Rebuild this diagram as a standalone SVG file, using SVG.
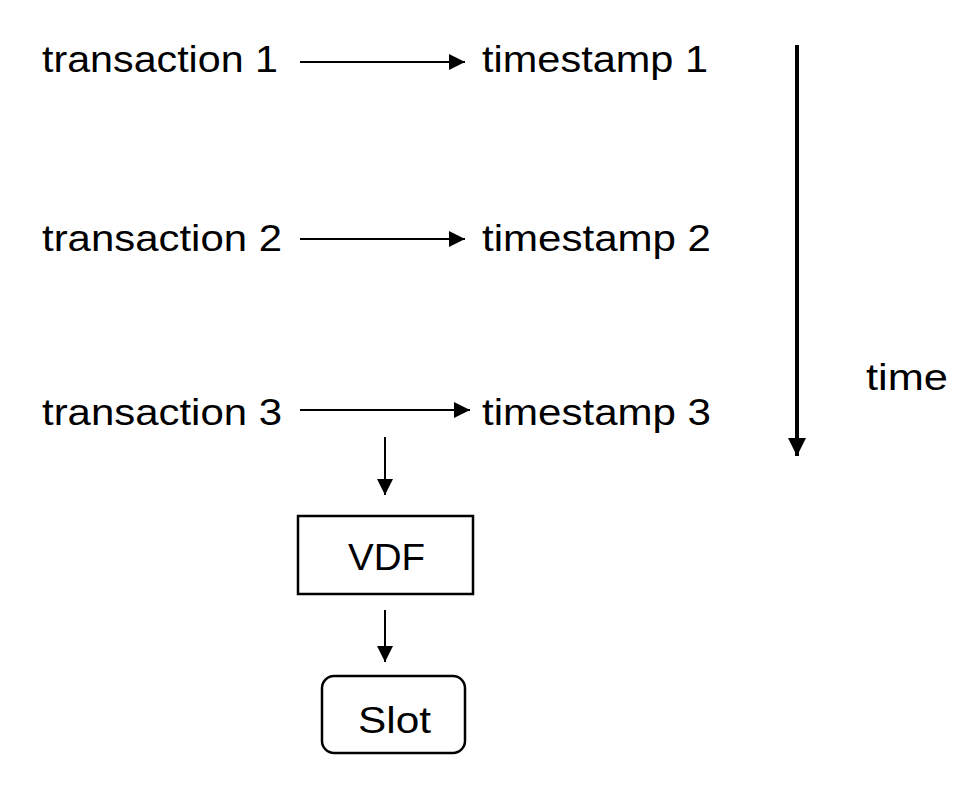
<svg xmlns="http://www.w3.org/2000/svg" width="974" height="806" viewBox="0 0 974 806">
<style>
text{font-family:"Liberation Sans",Arial,sans-serif;font-size:37px;fill:#000}
.c{stroke:#000;stroke-width:2;fill:none}
.b{stroke:#000;stroke-width:2.5;fill:#fff}
</style>
<defs>
<marker id="m" viewBox="0 0 10 10" refX="10" refY="5" markerWidth="16" markerHeight="16" markerUnits="userSpaceOnUse" orient="auto"><path d="M0,0L10,5L0,10z"/></marker>
<marker id="s" viewBox="0 0 10 10" refX="10" refY="5" markerWidth="18" markerHeight="18" markerUnits="userSpaceOnUse" orient="auto"><path d="M0,0L10,5L0,10z"/></marker>
</defs>
<rect width="974" height="806" fill="#fff"/>
<g id="tx1"><text x="42" y="72" textLength="236" lengthAdjust="spacingAndGlyphs">transaction 1</text></g>
<g id="ts1"><text x="482" y="72" textLength="226" lengthAdjust="spacingAndGlyphs">timestamp 1</text></g>
<g id="tx2"><text x="42" y="251" textLength="240" lengthAdjust="spacingAndGlyphs">transaction 2</text></g>
<g id="ts2"><text x="482" y="251" textLength="229" lengthAdjust="spacingAndGlyphs">timestamp 2</text></g>
<g id="tx3"><text x="42" y="425" textLength="240" lengthAdjust="spacingAndGlyphs">transaction 3</text></g>
<g id="ts3"><text x="482" y="425" textLength="229" lengthAdjust="spacingAndGlyphs">timestamp 3</text></g>
<g id="time"><text x="866" y="390" textLength="82" lengthAdjust="spacingAndGlyphs">time</text></g>
<g id="vdf"><rect class="b" x="298" y="516" width="175" height="78"/><text x="348" y="570" textLength="77" lengthAdjust="spacingAndGlyphs">VDF</text></g>
<g id="slot"><rect class="b" x="322" y="676" width="143" height="77" rx="12"/><text x="358" y="733" textLength="73" lengthAdjust="spacingAndGlyphs">Slot</text></g>
<g id="connectors">
<line class="c" x1="300" y1="62" x2="465" y2="62" marker-end="url(#m)"/>
<line class="c" x1="300" y1="239" x2="465" y2="239" marker-end="url(#m)"/>
<line class="c" x1="300" y1="410" x2="470" y2="410" marker-end="url(#m)"/>
<line class="c" x1="385" y1="437" x2="385" y2="495" marker-end="url(#m)"/>
<line class="c" x1="385" y1="610" x2="385" y2="662" marker-end="url(#m)"/>
<line x1="797" y1="45" x2="797" y2="456" stroke="#000" stroke-width="4" marker-end="url(#s)"/>
</g>
</svg>
